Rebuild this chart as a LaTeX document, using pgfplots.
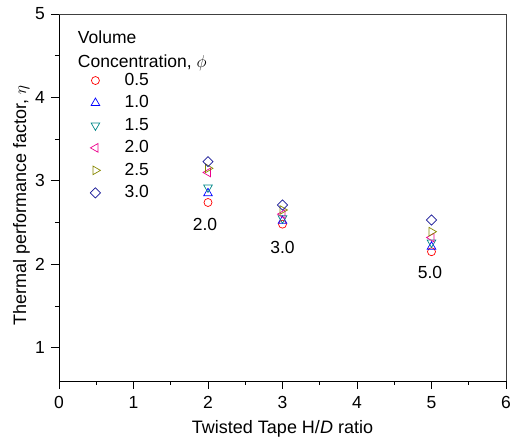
\documentclass[border=0pt]{standalone}
\usepackage{fontspec}
\setmainfont{Liberation Sans}
\usepackage{pgfplots}
\pgfplotsset{compat=1.18}
\definecolor{cteal}{RGB}{0,135,135}
\definecolor{colive}{RGB}{135,135,0}
\definecolor{cnavy}{RGB}{20,20,150}
\newcommand{\fs}{\fontsize{18bp}{21bp}\selectfont}
\newcommand{\fst}{\fontsize{17.5bp}{21bp}\selectfont}
\begin{document}
\fs
\begin{tikzpicture}
\begin{axis}[
  scale only axis,
  width=447bp, height=367bp,
  xmin=0, xmax=6, ymin=0.6, ymax=5,
  xtick={0,1,2,3,4,5,6},
  ytick={1,2,3,4,5},
  minor xtick={0.5,1.5,2.5,3.5,4.5,5.5},
  minor ytick={1.5,2.5,3.5,4.5},
  axis x line*=bottom, axis y line*=left,
  tick align=outside,
  major tick length=8bp, minor tick length=4bp,
  tick style={black, line width=0.7pt},
  axis line style={line width=0.9pt},
  /pgf/number format/assume math mode=true,
  /pgf/number format/fixed,
  tick label style={font=\fst},
  xticklabel style={yshift=-1bp},
  label style={font=\fs},
  xlabel={Twisted Tape H/\textit{D} ratio},
  ylabel={Thermal performance factor, $\eta$},
  ylabel style={yshift=-7bp, xshift=-8bp},
  xlabel style={yshift=0bp},
  legend style={draw=none, fill=none, at={(rel axis cs:0.063,0.845)}, anchor=north west,
    font=\fst, row sep=3.6bp, inner ysep=0pt,
    /tikz/every odd column/.append style={column sep=22bp}},
  legend cell align=left,
  every axis plot/.append style={only marks, line width=0.7pt},
  clip=false,
]
\path (rel axis cs:0,0) ++(-59bp,-63bp) coordinate (bl);
\path (rel axis cs:1,1) ++(9bp,14bp) coordinate (tr);
\draw[line width=0.9pt, black!75] (rel axis cs:0,1) -- (rel axis cs:1,1) -- (rel axis cs:1,0);
\node[anchor=north west, align=left, font=\fst, inner sep=0pt]
  at (rel axis cs:0.042,0.955) {Volume\\[3pt]Concentration, $\phi$};
\addplot[red, mark=o, mark size=4bp] coordinates {(2,2.74) (3,2.48) (5,2.15)};
\addlegendentry{0.5}
\addplot[blue, mark=triangle, mark size=5bp] coordinates {(2,2.85) (3,2.52) (5,2.21)};
\addlegendentry{1.0}
\addplot[cteal, mark=triangle, mark size=5bp, every mark/.append style={rotate=180}] coordinates {(2,2.92) (3,2.55) (5,2.26)};
\addlegendentry{1.5}
\addplot[magenta, mark=triangle, mark size=5bp, every mark/.append style={rotate=90}] coordinates {(2,3.10) (3,2.60) (5,2.32)};
\addlegendentry{2.0}
\addplot[colive, mark=triangle, mark size=5bp, every mark/.append style={rotate=-90}] coordinates {(2,3.15) (3,2.65) (5,2.39)};
\addlegendentry{2.5}
\addplot[cnavy, mark=square, mark size=3.6bp, every mark/.append style={rotate=45}] coordinates {(2,3.23) (3,2.71) (5,2.53)};
\addlegendentry{3.0}
\node[font=\fst] at (axis cs:1.96,2.48) {2.0};
\node[font=\fst] at (axis cs:3.0,2.20) {3.0};
\node[font=\fst] at (axis cs:4.98,1.90) {5.0};
\end{axis}
\pgfresetboundingbox
\path[use as bounding box] (bl) rectangle (tr);
\end{tikzpicture}
\end{document}
